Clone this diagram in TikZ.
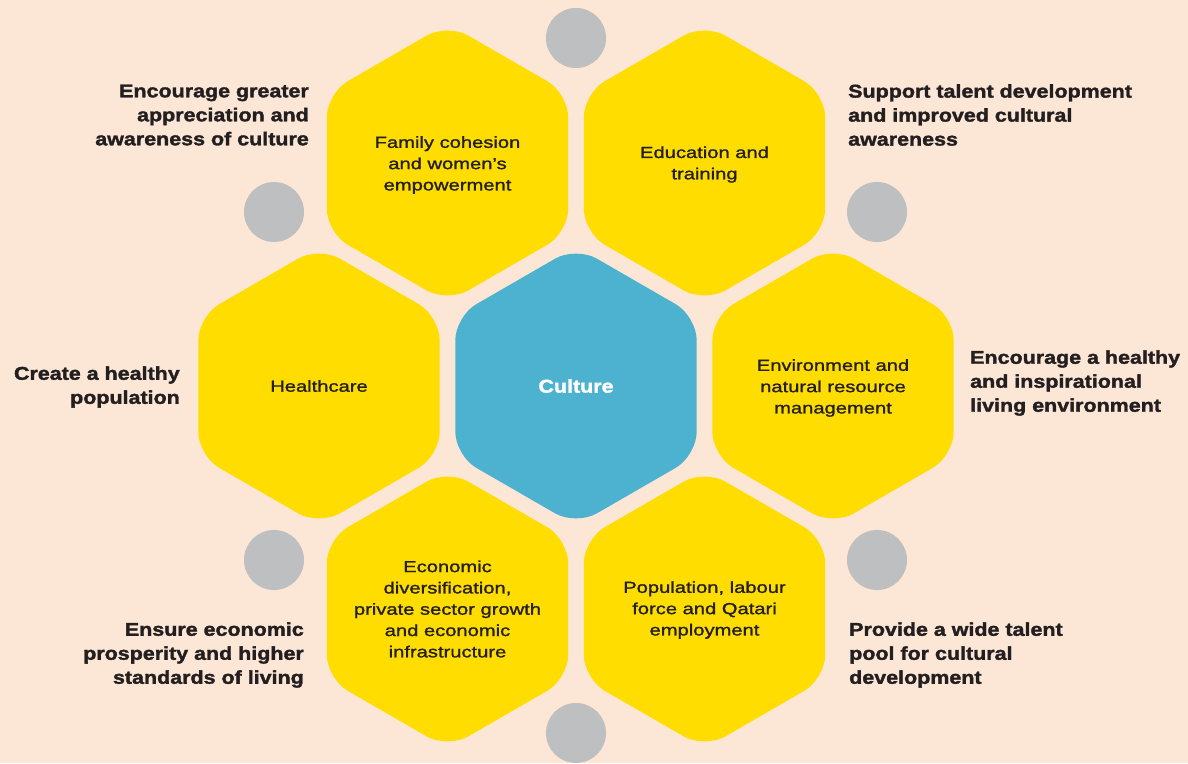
\documentclass[tikz,border=0pt]{standalone}
\usepackage{fontspec}
\setmainfont{Liberation Sans}
\newfontfamily\heavyfont[FakeBold=1.8,FakeStretch=1.16]{Liberation Sans Bold}
\newfontfamily\medfont[FakeBold=1.3,FakeStretch=1.26]{Liberation Sans}
\definecolor{bg}{HTML}{FCE6D5}
\definecolor{hexyellow}{HTML}{FFDD00}
\definecolor{hexblue}{HTML}{4DB2CF}
\definecolor{dotgrey}{HTML}{BEBFC1}
\definecolor{ink}{HTML}{231F20}
\newcommand\hexat[2]{\fill[#2, rounded corners=24pt] (#1) ++(120.7,0) -- ++(0,69.7) -- ++(-120.7,69.7) -- ++(-120.7,-69.7) -- ++(0,-139.4) -- ++(120.7,-69.7) -- ++(120.7,69.7) -- cycle;}
\begin{document}
\begin{tikzpicture}[x=1pt,y=-1pt,
  dot/.style={circle, fill=dotgrey, minimum size=60pt, inner sep=0pt},
  intext/.style={align=center, text=ink, inner sep=0pt, font=\medfont\fontsize{16}{21.3}\selectfont},
  side/.style={text=ink, inner sep=0pt, font=\heavyfont\fontsize{18.5}{24}\selectfont},
  sider/.style={side, align=right, anchor=east},
  sidel/.style={side, align=left, anchor=west}]
\fill[bg] (0,0) rectangle (1188,763);
\useasboundingbox (0,0) rectangle (1188,763);
% hexagon centres
\coordinate (cul) at (576,386);
\coordinate (fam) at (447.5,163);
\coordinate (edu) at (704.5,163);
\coordinate (hea) at (319,386);
\coordinate (env) at (833,386);
\coordinate (eco) at (447.5,609);
\coordinate (pop) at (704.5,609);
\hexat{fam}{hexyellow}
\hexat{edu}{hexyellow}
\hexat{hea}{hexyellow}
\hexat{env}{hexyellow}
\hexat{eco}{hexyellow}
\hexat{pop}{hexyellow}
\hexat{cul}{hexblue}
% grey dots
\node[dot] (d1) at (576,38) {};
\node[dot] (d2) at (274,212) {};
\node[dot] (d3) at (877,212) {};
\node[dot] (d4) at (274,560) {};
\node[dot] (d5) at (877,560) {};
\node[dot] (d6) at (576,733) {};
% hexagon texts
\node[intext] (famt) at ([yshift=-2]fam) {Family cohesion\\and women’s\\empowerment};
\node[intext] (edut) at ([yshift=-1.5]edu) {Education and\\training};
\node[intext] (heat) at (hea) {Healthcare};
\node[intext] (envt) at ([yshift=-2]env) {Environment and\\natural resource\\management};
\node[intext] (ecot) at (eco) {Economic\\diversification,\\private sector growth\\and economic\\infrastructure};
\node[intext] (popt) at ([yshift=-1]pop) {Population, labour\\force and Qatari\\employment};
\node[side, text=white] (cult) at (cul) {Culture};
% side labels
\node[sider] (l1) at (309,115) {Encourage greater\\appreciation and\\awareness of culture};
\node[sidel] (l2) at (848,115) {Support talent development\\and improved cultural\\awareness};
\node[sider] (l3) at (180,387) {Create a healthy\\population};
\node[sidel] (l4) at (970,383) {Encourage a healthy\\and inspirational\\living environment};
\node[sider] (l5) at (304,655) {Ensure economic\\prosperity and higher\\standards of living};
\node[sidel] (l6) at (849,655) {Provide a wide talent\\pool for cultural\\development};
\end{tikzpicture}
\end{document}
